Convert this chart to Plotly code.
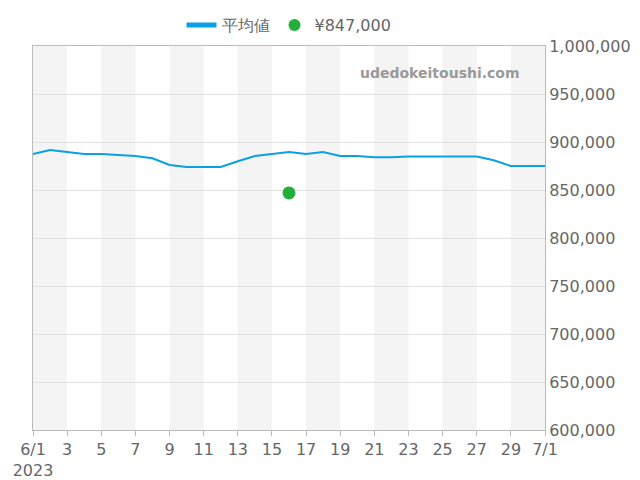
import plotly.graph_objects as go
import pandas as pd

dates = pd.date_range("2023-06-01", "2023-07-01", freq="D")
avg = [887500, 891700, 889600, 887500, 887500, 886500, 885400, 883000, 876000, 874000,
       874000, 874000, 880000, 885400, 887500, 889600, 887500, 889600, 885400, 885400,
       884000, 884000, 885000, 885000, 885000, 885000, 885000, 881000, 875000, 875000, 875000]
point_date = ["2023-06-16"]
point_val = [847000]

tickvals = sorted(set(pd.date_range("2023-06-01", "2023-07-01", freq="2D").tolist()
                      + [pd.Timestamp("2023-07-01")]))
ticktext = []
for d in tickvals:
    if d == pd.Timestamp("2023-06-01"):
        ticktext.append("6/1<br>2023")
    elif d == pd.Timestamp("2023-07-01"):
        ticktext.append("7/1")
    else:
        ticktext.append(str(d.day))

fig = go.Figure()
fig.add_trace(go.Scatter(x=dates, y=avg, mode="lines", name="平均値",
                         line=dict(color="#0aa0e6", width=2)))
fig.add_trace(go.Scatter(x=point_date, y=point_val, mode="markers", name="¥847,000",
                         marker=dict(color="#22b03a", size=13)))

shapes = []
for i in range(0, 30, 4):
    x0 = pd.Timestamp("2023-06-01") + pd.Timedelta(days=i)
    x1 = x0 + pd.Timedelta(days=2)
    shapes.append(dict(type="rect", xref="x", yref="paper", x0=x0, x1=x1, y0=0, y1=1,
                       fillcolor="#f2f2f2", line=dict(width=0), layer="below", opacity=0.85))

fig.update_layout(
    width=640, height=480, margin=dict(l=25, r=103, t=38, b=58, autoexpand=False),
    plot_bgcolor="white", paper_bgcolor="white",
    font=dict(family="DejaVu Sans", color="#666", size=16),
    shapes=shapes,
    legend=dict(orientation="h", x=0.5, xanchor="center", yref="container", y=1.0, yanchor="top",
                font=dict(size=16, color="#666"), itemsizing="constant"),
    showlegend=True,
    xaxis=dict(range=[dates[0], dates[-1]], tickvals=tickvals, ticktext=ticktext,
               showgrid=False, showline=True, linecolor="#bbb", mirror=True, automargin=False,
               ticks="outside", tickcolor="#bbb", tickfont=dict(size=16, color="#666")),
    yaxis=dict(range=[600000, 1000000], dtick=50000, side="right", tickformat=",d",
               showgrid=True, gridcolor="#e0e0e0", showline=True, linecolor="#bbb",
               mirror=True, automargin=False, tickfont=dict(size=16, color="#666")),
    annotations=[dict(text="<b>udedokeitoushi.com</b>", xref="paper", yref="paper",
                      x=0.955, y=0.955, xanchor="right", yanchor="top", showarrow=False,
                      font=dict(size=14, color="#999"))],
)
fig.write_html("out.html")
